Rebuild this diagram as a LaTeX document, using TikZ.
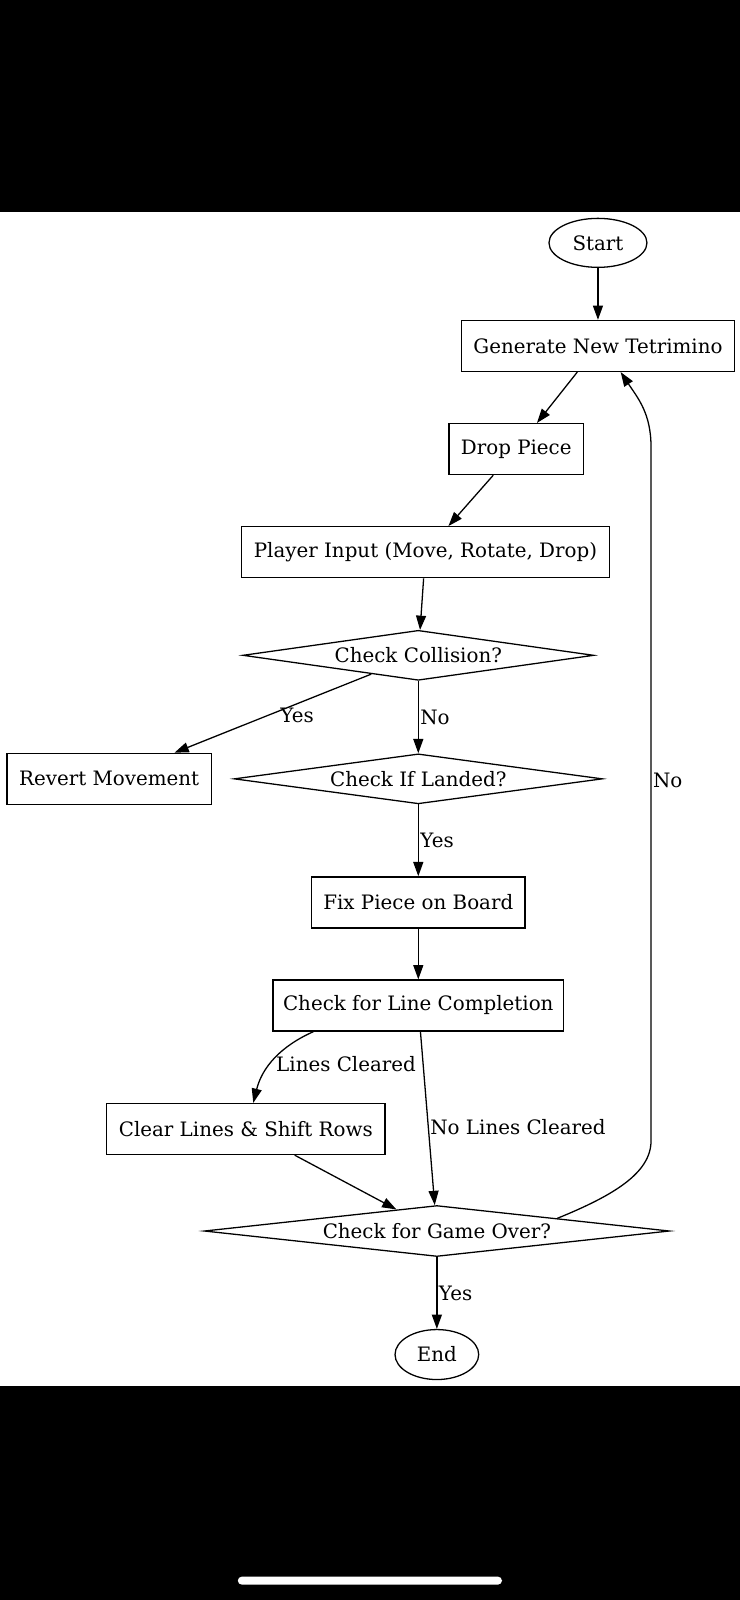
\documentclass[tikz,border=0pt]{standalone}
\usepackage{fontspec}
\setmainfont{DejaVu Serif}
\usepackage{tikz}
\usetikzlibrary{arrows.meta,shapes.geometric,positioning}

\begin{document}
\begin{tikzpicture}[->,>={Triangle[length=10pt,width=7pt]},x=0.7145pt,y=0.7145pt,
                    node distance=72.2pt,line width=0.9pt,
                    font=\fontsize{13.9}{16}\selectfont]
  \tikzstyle{process}=[draw,rectangle,minimum height=35.7pt,inner sep=0pt]
  \tikzstyle{decision}=[draw,diamond,aspect=7,minimum height=35pt,inner sep=0pt]
  \tikzstyle{terminal}=[draw,ellipse,minimum height=34.3pt,inner sep=0pt]
  \tikzstyle{answer}=[right,inner sep=1pt]

  % phone screen around the chart
  \useasboundingbox (0,0) rectangle (725,-1568);
  \fill[black] (0,0) rectangle (725,-208);
  \fill[black] (0,-1358) rectangle (725,-1568);
  \fill[white,rounded corners=3pt] (233,-1545) rectangle (492,-1553);

  \node[terminal] [minimum width=68.6pt]  (start)    at (586,-238)        {Start};
  \node[process]  [minimum width=190.8pt] (gen)      [below of=start]     {Generate New Tetrimino};
  \node[process]  [minimum width=94.3pt]  (drop)     [below of=gen,xshift=-57.2pt] {Drop Piece};
  \node[process]  [minimum width=257.9pt] (player)   [below of=drop,xshift=-63.6pt] {Player Input (Move, Rotate, Drop)};
  \node[decision] [minimum width=245.8pt] (coll)     [below of=player,xshift=-5pt] {Check Collision?};
  \node[decision] [minimum width=257.9pt] (landed)   [node distance=86.5pt,below of=coll] {Check If Landed?};
  \node[process]  [minimum width=142.9pt] (revert)   [node distance=216.5pt,left of=landed] {Revert Movement};
  \node[process]  [minimum width=149.3pt] (fix)      [node distance=86.5pt,below of=landed] {Fix Piece on Board};
  \node[process]  [minimum width=203.6pt] (linecomp) [below of=fix]       {Check for Line Completion};
  \node[process]  [minimum width=195.1pt] (clear)    [node distance=86.5pt,below of=linecomp,xshift=-120.8pt] {Clear Lines \& Shift Rows};
  \node[decision] [minimum width=325.8pt,minimum height=35.7pt] (over) [node distance=157.9pt,below of=linecomp,xshift=13pt] {Check for Game Over?};
  \node[terminal] [minimum width=58.6pt,minimum height=35pt] (end) [node distance=86.5pt,below of=over] {End};

  \path (start)         edge                                   (gen)
        (gen)           edge                                   (drop)
        (drop)          edge                                   (player)
        (player)        edge                                   (coll)
        (coll)          edge node[answer,pos=0.53,xshift=8pt] {Yes} (revert)
                        edge node[answer]                     {No}  (landed)
        (landed)        edge node[answer]                     {Yes} (fix)
        (fix)           edge                                   (linecomp)
        (linecomp.194)  edge[out=204,in=76] node[answer,yshift=-3.5pt] {Lines Cleared} (clear.74)
        (linecomp)      edge node[answer,pos=0.55]            {No Lines Cleared} (over)
        (clear)         edge                                   (over)
        (over)          edge node[answer]                     {Yes} (end);

  \draw (over.6) .. controls (600,-1172) and (638,-1150) .. (638,-1118)
        -- node[answer,pos=0.52] {No} (638,-438)
        .. controls (638,-405) and (625,-390) .. (gen.-49);
\end{tikzpicture}
\end{document}
